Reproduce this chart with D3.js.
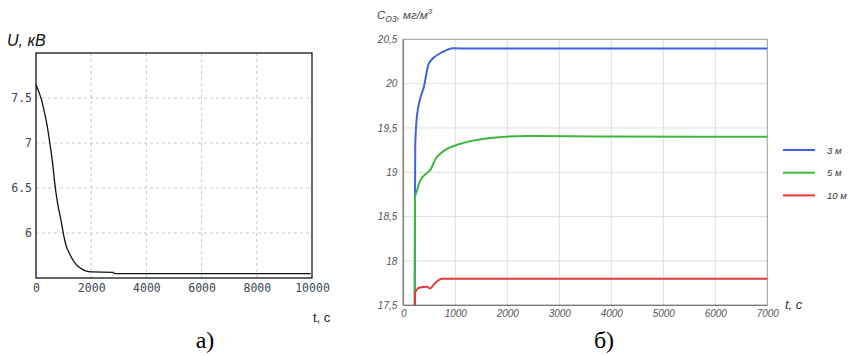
<!DOCTYPE html>
<html><head><meta charset="utf-8">
<script src="https://cdn.jsdelivr.net/npm/d3@7"></script>
<style>body{margin:0;background:#fff}svg{display:block}</style>
</head><body>
<svg id="c" width="852" height="355"></svg>
<script>
// ---- Panel а: voltage U (kV) vs time t (s)
const uTime  = [0,100,200,300,400,500,600,700,800,900,1000,1100,1200,1400,1600,1800,2000,2800,2850,9950];
const uValue = [7.648,7.57,7.48,7.35,7.20,7.0,6.78,6.5,6.30,6.15,5.98,5.85,5.78,5.67,5.61,5.58,5.567,5.563,5.548,5.548];
const uXTicks = [0,2000,4000,6000,8000,10000];
const uYTicks = [6,6.5,7,7.5];

// ---- Panel б: ozone concentration vs time, three distances
const seriesNames = ["3 м","5 м","10 м"];
const seriesColors = ["#3f63e0","#3db83d","#e23a3a"];
const cTime3  = [220,225,230,250,290,350,400,440,480,530,600,700,800,950,1500,7000];
const cVal3   = [17.5,18.7,19.3,19.55,19.74,19.88,19.97,20.1,20.21,20.26,20.3,20.34,20.37,20.4,20.395,20.395];
const cTime5  = [220,225,260,320,450,525,610,800,990,1280,1730,2370,3650,7000];
const cVal5   = [17.5,18.72,18.79,18.9,18.99,19.03,19.14,19.25,19.30,19.35,19.39,19.41,19.405,19.40];
const cTime10 = [225,228,250,320,450,510,610,737,7000];
const cVal10  = [17.5,17.64,17.67,17.70,17.71,17.69,17.75,17.80,17.80];
const cXTicks = [0,1000,2000,3000,4000,5000,6000,7000];
const cYTicks = [17.5,18,18.5,19,19.5,20,20.5];
const cYLabels = ["17,5","18","18,5","19","19,5","20","20,5"];

const svg = d3.select("#c");

// ================= Panel а =================
const xa = d3.scaleLinear().domain([0,10000]).range([36,312]);
const ya = d3.scaleLinear().domain([5.5,8.0]).range([278,53]);
const ga = svg.append("g");
// grid
ga.append("g").selectAll("line").data(uXTicks.slice(1,-1)).join("line")
  .attr("x1",d=>xa(d)).attr("x2",d=>xa(d)).attr("y1",ya(8)).attr("y2",ya(5.5))
  .attr("stroke","#c8c8c8").attr("stroke-dasharray","3,3");
ga.append("g").selectAll("line").data(uYTicks).join("line")
  .attr("x1",xa(0)).attr("x2",xa(10000)).attr("y1",d=>ya(d)).attr("y2",d=>ya(d))
  .attr("stroke","#c8c8c8").attr("stroke-dasharray","3,3");
// frame
ga.append("rect").attr("x",xa(0)).attr("y",ya(8)).attr("width",xa(10000)-xa(0)).attr("height",ya(5.5)-ya(8))
  .attr("fill","none").attr("stroke","#000").attr("stroke-width",1.2);
// axes
const axA = ga.append("g").attr("transform",`translate(0,${ya(5.5)})`)
  .call(d3.axisBottom(xa).tickValues(uXTicks).tickSize(0).tickPadding(6).tickFormat(d3.format("d")));
const ayA = ga.append("g").attr("transform",`translate(${xa(0)},0)`)
  .call(d3.axisLeft(ya).tickValues(uYTicks).tickSize(0).tickPadding(4).tickFormat(d=>String(d)));
[axA,ayA].forEach(a=>{a.select(".domain").remove();
  a.selectAll("text").attr("font-family","DejaVu Sans Mono").attr("font-size","11.5px").attr("fill","#3c4652");});
// line
ga.append("path").datum(uTime.map((t,i)=>[t,uValue[i]]))
  .attr("d",d3.line().x(d=>xa(d[0])).y(d=>ya(d[1])).curve(d3.curveMonotoneX))
  .attr("fill","none").attr("stroke","#111").attr("stroke-width",1.3);
// labels
ga.append("text").attr("x",7).attr("y",46).attr("font-family","Liberation Sans").attr("font-style","italic")
  .attr("font-size","16px").attr("fill","#111").text("U, кВ");
ga.append("text").attr("x",313).attr("y",322).attr("font-family","Liberation Sans")
  .attr("font-size","13px").attr("fill","#222").text("t, с");
ga.append("text").attr("x",205).attr("y",348).attr("text-anchor","middle").attr("font-family","Liberation Serif")
  .attr("font-size","24px").attr("fill","#000").text("а)");

// ================= Panel б =================
const xb = d3.scaleLinear().domain([0,7000]).range([403.3,767.3]);
const yb = d3.scaleLinear().domain([17.5,20.5]).range([305.3,39.3]);
const gb = svg.append("g");
gb.append("g").selectAll("line").data(cXTicks.slice(1,-1)).join("line")
  .attr("x1",d=>xb(d)).attr("x2",d=>xb(d)).attr("y1",yb(20.5)).attr("y2",yb(17.5))
  .attr("stroke","#dedede").attr("stroke-width",1);
gb.append("g").selectAll("line").data(cYTicks.slice(1,-1)).join("line")
  .attr("x1",xb(0)).attr("x2",xb(7000)).attr("y1",d=>yb(d)).attr("y2",d=>yb(d))
  .attr("stroke","#dedede").attr("stroke-width",1);
gb.append("rect").attr("x",xb(0)).attr("y",yb(20.5)).attr("width",xb(7000)-xb(0)).attr("height",yb(17.5)-yb(20.5))
  .attr("fill","none").attr("stroke","#9a9a9a").attr("stroke-width",1);
gb.append("line").attr("x1",xb(0)).attr("x2",xb(0)).attr("y1",yb(20.5)).attr("y2",yb(17.5))
  .attr("stroke","#777").attr("stroke-width",1.3);
gb.append("line").attr("x1",xb(0)).attr("x2",xb(7000)).attr("y1",yb(17.5)).attr("y2",yb(17.5))
  .attr("stroke","#777").attr("stroke-width",1.3);
const axB = gb.append("g").attr("transform",`translate(0,${yb(17.5)})`)
  .call(d3.axisBottom(xb).tickValues(cXTicks).tickSize(0).tickPadding(5).tickFormat(d3.format("d")));
const ayB = gb.append("g").attr("transform",`translate(${xb(0)},0)`)
  .call(d3.axisLeft(yb).tickValues(cYTicks).tickSize(0).tickPadding(6).tickFormat((d,i)=>cYLabels[i]));
[axB,ayB].forEach(a=>{a.select(".domain").remove();
  a.selectAll("text").attr("font-family","Liberation Sans").attr("font-style","italic")
   .attr("font-size","10px").attr("fill","#555");});
const lineB = d3.line().x(d=>xb(d[0])).y(d=>yb(d[1])).curve(d3.curveMonotoneX);
const seriesData = [
  cTime3.map((t,i)=>[t,cVal3[i]]),
  cTime5.map((t,i)=>[t,cVal5[i]]),
  cTime10.map((t,i)=>[t,cVal10[i]])
];
gb.append("g").selectAll("path").data(seriesData).join("path")
  .attr("d",lineB).attr("fill","none").attr("stroke",(d,i)=>seriesColors[i]).attr("stroke-width",2);
// legend
const leg = gb.append("g").selectAll("g").data(seriesNames).join("g")
  .attr("transform",(d,i)=>`translate(783,${150+i*22.7})`);
leg.append("line").attr("x1",0).attr("x2",32).attr("stroke",(d,i)=>seriesColors[i]).attr("stroke-width",2);
leg.append("text").attr("x",44).attr("y",3.5).attr("font-family","Liberation Sans").attr("font-style","italic")
  .attr("font-size","9.5px").attr("fill","#333").text(d=>d);
// titles
const tt = gb.append("text").attr("x",377).attr("y",19).attr("font-family","Liberation Sans")
  .attr("font-style","italic").attr("font-size","11.5px").attr("fill","#444");
tt.append("tspan").text("C");
tt.append("tspan").attr("dy",3).attr("font-size","8.5px").text("O3");
tt.append("tspan").attr("dy",-3).text(", мг/м");
tt.append("tspan").attr("dy",-5).attr("font-size","8px").text("3");
gb.append("text").attr("x",785).attr("y",309).attr("font-family","Liberation Sans").attr("font-style","italic")
  .attr("font-size","13px").attr("fill","#333").text("t, с");
gb.append("text").attr("x",604).attr("y",348).attr("text-anchor","middle").attr("font-family","Liberation Serif")
  .attr("font-size","24px").attr("fill","#000").text("б)");
</script>
</body></html>
